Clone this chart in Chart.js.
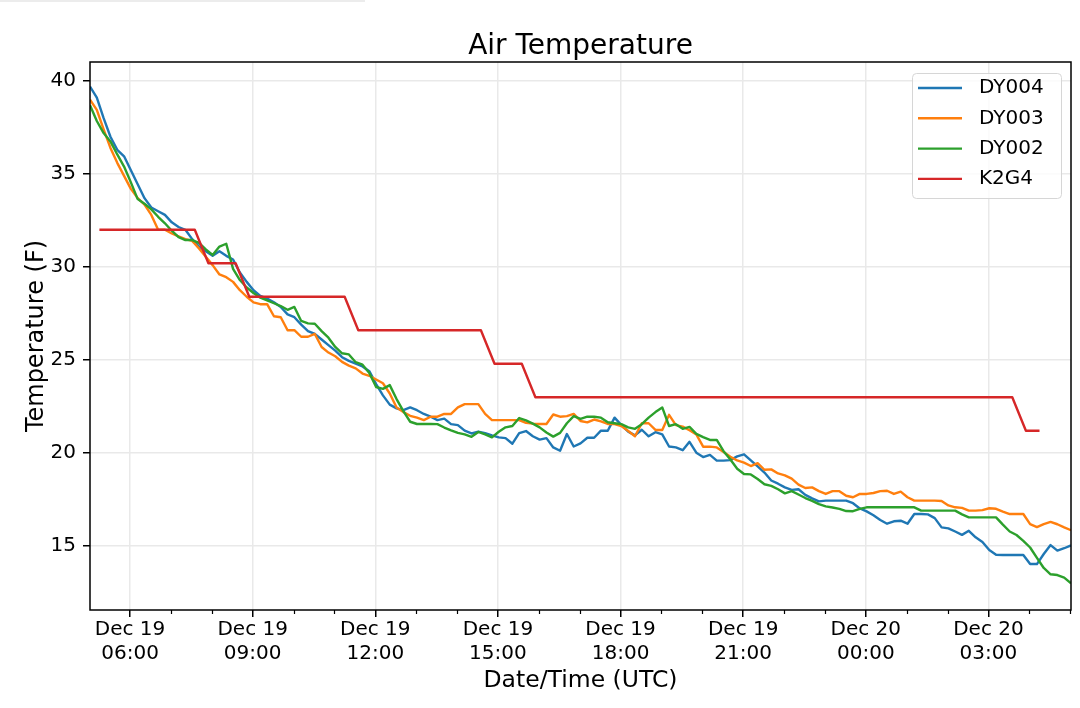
<!DOCTYPE html>
<html>
<head>
<meta charset="utf-8">
<title>Air Temperature</title>
<script src="https://cdn.jsdelivr.net/npm/chart.js@4"></script>
<style>
  html, body { margin: 0; padding: 0; background: #fff; }
  #wrap { width: 1080px; height: 708px; }
</style>
</head>
<body>
<div id="wrap"><canvas id="myChart" width="1080" height="708"></canvas></div>
<script>
// Data (x values are hours after Dec 19 00:00 UTC)

const dyStart = 5.02;   // first DY sample, 05:01
const dyStep = 1 / 6;   // 10 minutes

const dy004 = [
    39.7, 39.1, 38.0, 37.0, 36.3, 35.95, 35.2, 34.45, 33.7, 33.2,
    33.0, 32.8, 32.4, 32.15, 32.0, 31.5, 31.1, 30.85, 30.6, 30.85,
    30.6, 30.4, 29.7, 29.2, 28.75, 28.45, 28.3, 28.1, 27.85, 27.45,
    27.3, 26.9, 26.55, 26.4, 26.1, 25.8, 25.5, 25.15, 24.95, 24.8,
    24.65, 24.4, 23.7, 23.1, 22.6, 22.4, 22.3, 22.45, 22.3, 22.1,
    21.95, 21.77, 21.85, 21.55, 21.5, 21.2, 21.05, 21.15, 21.07, 20.95,
    20.84, 20.8, 20.5, 21.07, 21.18, 20.9, 20.72, 20.8, 20.3, 20.12,
    21.02, 20.35, 20.52, 20.82, 20.82, 21.2, 21.2, 21.9, 21.5, 21.15,
    20.95, 21.25, 20.9, 21.12, 21.0, 20.35, 20.3, 20.15, 20.6, 20.02,
    19.78, 19.9, 19.59, 19.59, 19.62, 19.82, 19.93, 19.6, 19.28, 18.95,
    18.52, 18.35, 18.15, 18.02, 18.05, 17.75, 17.56, 17.4, 17.44, 17.44,
    17.44, 17.44, 17.3, 17.02, 16.86, 16.65, 16.4, 16.2, 16.33, 16.36,
    16.2, 16.72, 16.72, 16.7, 16.5, 16.0, 15.95, 15.78, 15.6, 15.82,
    15.47, 15.22, 14.78, 14.53, 14.52, 14.52, 14.52, 14.52, 14.03, 14.03,
    14.57, 15.05, 14.75, 14.88, 15.03
];

const dy003 = [
    39.0, 38.45, 37.4, 36.4, 35.6, 34.9, 34.2, 33.7, 33.35, 32.8,
    32.0, 32.0, 31.8, 31.65, 31.5, 31.4, 31.0, 30.55, 30.1, 29.6,
    29.45, 29.2, 28.75, 28.4, 28.1, 28.0, 28.0, 27.35, 27.3, 26.6,
    26.6, 26.25, 26.25, 26.4, 25.7, 25.4, 25.2, 24.9, 24.7, 24.55,
    24.27, 24.15, 23.95, 23.75, 23.2, 22.45, 22.2, 22.0, 21.9, 21.77,
    21.95, 21.95, 22.1, 22.1, 22.45, 22.63, 22.63, 22.63, 22.1, 21.77,
    21.77, 21.77, 21.77, 21.77, 21.62, 21.58, 21.56, 21.56, 22.07, 21.95,
    21.98, 22.1, 21.72, 21.65, 21.8, 21.7, 21.56, 21.56, 21.45, 21.18,
    20.9, 21.6, 21.6, 21.24, 21.24, 22.05, 21.5, 21.42, 21.22, 21.0,
    20.34, 20.34, 20.3, 20.05, 19.8, 19.6, 19.48, 19.3, 19.45, 19.1,
    19.12, 18.9, 18.8, 18.62, 18.3, 18.12, 18.15, 17.95, 17.8, 17.95,
    17.95, 17.7, 17.62, 17.8, 17.8, 17.85, 17.95, 17.97, 17.8, 17.92,
    17.62, 17.44, 17.44, 17.44, 17.44, 17.42, 17.18, 17.08, 17.05, 16.9,
    16.9, 16.93, 17.03, 17.0, 16.85, 16.72, 16.72, 16.72, 16.18, 16.02,
    16.18, 16.3, 16.17, 16.0, 15.85
];

const dy002 = [
    38.7, 37.85, 37.2, 36.75, 36.05, 35.4, 34.55, 33.65, 33.4, 33.1,
    32.7, 32.35, 31.95, 31.6, 31.45, 31.45, 31.3, 30.95, 30.65, 31.1,
    31.25, 29.9, 29.3, 28.9, 28.6, 28.35, 28.2, 28.05, 27.9, 27.7,
    27.85, 27.1, 26.97, 26.95, 26.55, 26.2, 25.7, 25.36, 25.3, 24.88,
    24.75, 24.3, 23.55, 23.45, 23.65, 22.9, 22.25, 21.68, 21.56, 21.56,
    21.56, 21.55, 21.37, 21.22, 21.08, 21.0, 20.87, 21.13, 21.0, 20.84,
    21.14, 21.38, 21.45, 21.88, 21.75, 21.58, 21.38, 21.1, 20.88, 21.08,
    21.6, 21.98, 21.83, 21.95, 21.95, 21.9, 21.65, 21.6, 21.55, 21.38,
    21.3, 21.55, 21.9, 22.2, 22.45, 21.45, 21.55, 21.3, 21.4, 21.03,
    20.85, 20.7, 20.7, 20.1, 19.65, 19.15, 18.87, 18.85, 18.6, 18.32,
    18.23, 18.05, 17.83, 17.95, 17.77, 17.58, 17.43, 17.25, 17.13, 17.07,
    17.0, 16.88, 16.87, 17.0, 17.08, 17.08, 17.08, 17.08, 17.08, 17.08,
    17.08, 17.08, 16.9, 16.9, 16.9, 16.9, 16.9, 16.9, 16.7, 16.54,
    16.54, 16.54, 16.54, 16.54, 16.15, 15.78, 15.59, 15.28, 14.92, 14.36,
    13.82, 13.48, 13.44, 13.3, 13.0
];

const k2g4Start = 5.25;  // 05:15
const k2g4Step = 1 / 3;  // 20 minutes

const k2g4 = [
    32, 32, 32, 32, 32, 32, 32, 32,
    30.2, 30.2, 30.2,
    28.4, 28.4, 28.4, 28.4, 28.4, 28.4, 28.4, 28.4,
    26.6, 26.6, 26.6, 26.6, 26.6, 26.6, 26.6, 26.6, 26.6, 26.6,
    24.8, 24.8, 24.8,
    23, 23, 23, 23, 23, 23, 23, 23, 23, 23, 23, 23,
    23, 23, 23, 23, 23, 23, 23, 23, 23, 23, 23, 23,
    23, 23, 23, 23, 23, 23, 23, 23, 23, 23, 23, 23,
    21.2, 21.2
];

const seriesNames = ["DY004", "DY003", "DY002", "K2G4"];
const seriesColors = ["#1f77b4", "#ff7f0e", "#2ca02c", "#d62728"];

const tickHours = [6, 9, 12, 15, 18, 21, 24, 27];
const tickLabels = [
    ["Dec 19", "06:00"], ["Dec 19", "09:00"], ["Dec 19", "12:00"], ["Dec 19", "15:00"],
    ["Dec 19", "18:00"], ["Dec 19", "21:00"], ["Dec 20", "00:00"], ["Dec 20", "03:00"]
];
const yTicks = [15, 20, 25, 30, 35, 40];

// Setup

const FONT = "'DejaVu Sans', 'Liberation Sans', sans-serif";

function toPoints(values, start, step) {
    return values.map((v, i) => ({ x: start + i * step, y: v }));
}

const allSeries = [
    toPoints(dy004, dyStart, dyStep),
    toPoints(dy003, dyStart, dyStep),
    toPoints(dy002, dyStart, dyStep),
    toPoints(k2g4, k2g4Start, k2g4Step),
];

const data = {
    datasets: allSeries.map((pts, i) => ({
        label: seriesNames[i],
        data: pts,
        borderColor: seriesColors[i],
        backgroundColor: seriesColors[i],
        borderWidth: 2.4,
        pointRadius: 0,
        tension: 0,
        fill: false,
        borderJoinStyle: "round",
        order: 3 - i
    }))
};

// Plugins: hourly minor ticks, axes frame, legend box

const minorTicks = {
    id: "minorTicks",
    afterDraw(chart) {
        const { ctx, chartArea, scales: { x } } = chart;
        ctx.save();
        ctx.strokeStyle = "#000";
        ctx.lineWidth = 1.2;
        for (let h = Math.ceil(x.min); h <= x.max; h++) {
            if (tickHours.includes(h)) continue;
            const px = Math.round(x.getPixelForValue(h)) + 0.5;
            ctx.beginPath();
            ctx.moveTo(px, chartArea.bottom);
            ctx.lineTo(px, chartArea.bottom + 4);
            ctx.stroke();
        }
        ctx.restore();
    }
};

const frame = {
    id: "frame",
    afterDatasetsDraw(chart) {
        const { ctx, chartArea: a } = chart;
        ctx.save();
        ctx.strokeStyle = "#000";
        ctx.lineWidth = 1.5;
        ctx.strokeRect(a.left, a.top, a.right - a.left, a.bottom - a.top);
        ctx.restore();
    }
};

const legendBox = {
    id: "legendBox",
    afterDraw(chart) {
        const { ctx } = chart;
        const x0 = 912, y0 = 73, w = 149, h = 125, r = 4;
        ctx.save();
        ctx.beginPath();
        ctx.roundRect(x0 + 0.5, y0 + 0.5, w, h, r);
        ctx.fillStyle = "rgba(255,255,255,0.8)";
        ctx.fill();
        ctx.strokeStyle = "#d6d6d6";
        ctx.lineWidth = 1;
        ctx.stroke();
        ctx.font = "20px " + FONT;
        ctx.textBaseline = "middle";
        ctx.fillStyle = "#000";
        chart.data.datasets.forEach((ds, i) => {
            const yy = 88 + i * 30.3;
            ctx.strokeStyle = ds.borderColor;
            ctx.lineWidth = 2.4;
            ctx.beginPath();
            ctx.moveTo(918, yy);
            ctx.lineTo(962, yy);
            ctx.stroke();
            ctx.fillText(ds.label, 979, yy);
        });
        ctx.restore();
    }
};

const topStrip = {
    id: "topStrip",
    beforeDraw(chart) {
        const { ctx } = chart;
        ctx.save();
        ctx.fillStyle = "#ececec";
        ctx.fillRect(0, 0, 365, 2);
        ctx.restore();
    }
};

// Config

const config = {
    type: "line",
    data,
    options: {
        responsive: false,
        animation: false,
        layout: { padding: { left: 0, right: 9, top: 0, bottom: 0 } },
        plugins: {
            legend: { display: false },
            tooltip: { enabled: false },
            title: {
                display: true,
                fullSize: false,
                text: "Air Temperature",
                color: "#000",
                font: { family: FONT, size: 28, weight: "normal", lineHeight: 1 },
                padding: { top: 32.8, bottom: 1.2 }
            }
        },
        scales: {
            x: {
                type: "linear",
                min: dyStart,
                max: dyStart + (dy004.length - 1) * dyStep,
                afterBuildTicks: (scale) => {
                    scale.ticks = tickHours.map((v) => ({ value: v }));
                },
                afterFit: (scale) => { scale.height = 98; },
                ticks: {
                    autoSkip: false,
                    maxRotation: 0,
                    color: "#000",
                    padding: 1,
                    font: { family: FONT, size: 20 },
                    callback: (value) => tickLabels[tickHours.indexOf(value)]
                },
                grid: {
                    color: "#e9e9e9",
                    lineWidth: 1.5,
                    tickColor: "#000",
                    tickWidth: 1.5,
                    tickLength: 7
                },
                border: { display: false },
                title: {
                    display: true,
                    text: "Date/Time (UTC)",
                    color: "#000",
                    font: { family: FONT, size: 23.5 },
                    padding: { top: 0, bottom: 13 }
                }
            },
            y: {
                min: 11.56,
                max: 41.02,
                afterBuildTicks: (scale) => {
                    scale.ticks = yTicks.map((v) => ({ value: v }));
                },
                afterFit: (scale) => { scale.width = 90; },
                ticks: {
                    color: "#000",
                    padding: 7,
                    font: { family: FONT, size: 20 }
                },
                grid: {
                    color: "#e9e9e9",
                    lineWidth: 1.5,
                    tickColor: "#000",
                    tickWidth: 1.5,
                    tickLength: 7
                },
                border: { display: false },
                title: {
                    display: true,
                    text: "Temperature (F)",
                    color: "#000",
                    font: { family: FONT, size: 24 },
                    padding: { top: 22.6, bottom: 0 }
                }
            }
        }
    },
    plugins: [topStrip, minorTicks, frame, legendBox]
};

// Render

const myChart = new Chart(document.getElementById("myChart"), config);
</script>
</body>
</html>
